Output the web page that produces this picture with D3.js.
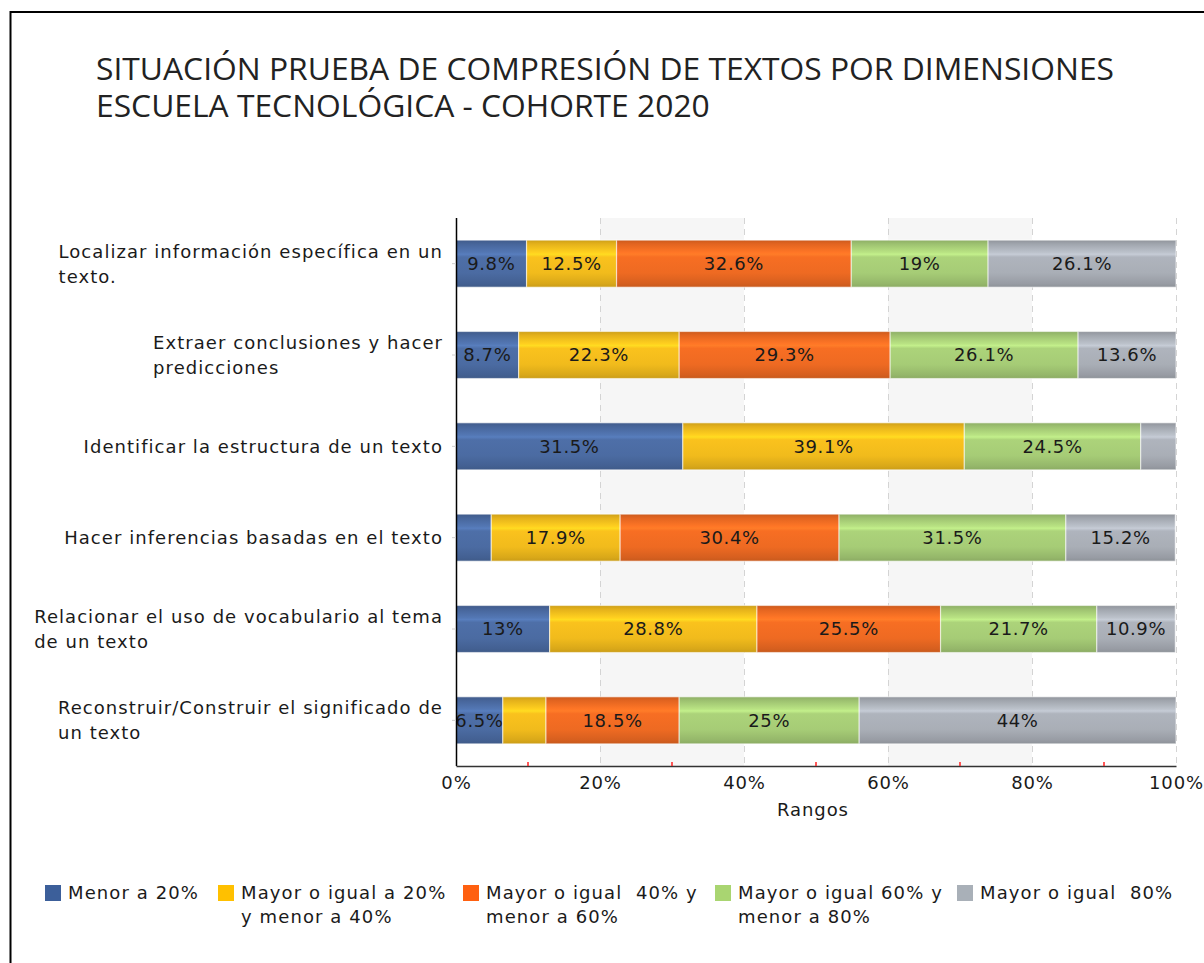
<!DOCTYPE html>
<html>
<head>
<meta charset="utf-8">
<script src="https://cdn.jsdelivr.net/npm/d3@7"></script>
<style>
  body { margin: 0; background: #fff; }
  svg text { font-family: "DejaVu Sans", Verdana, sans-serif; fill: #1a1a1a; white-space: pre; }
</style>
</head>
<body>
<script>
// ---- Datos ----
var titleLines = [
  "SITUACIÓN PRUEBA DE COMPRESIÓN DE TEXTOS POR DIMENSIONES",
  "ESCUELA TECNOLÓGICA - COHORTE 2020"
];
var categories = [
  ["Localizar información específica en un", "texto."],
  ["Extraer conclusiones y hacer", "predicciones"],
  ["Identificar la estructura de un texto"],
  ["Hacer inferencias basadas en el texto"],
  ["Relacionar el uso de vocabulario al tema", "de un texto"],
  ["Reconstruir/Construir el significado de", "un texto"]
];
var seriesNames = [
  ["Menor a 20%"],
  ["Mayor o igual a 20%", "y menor a 40%"],
  ["Mayor o igual  40% y", "menor a 60%"],
  ["Mayor o igual 60% y", "menor a 80%"],
  ["Mayor o igual  80%"]
];
var menor20   = [9.8, 8.7, 31.5, 4.9, 13, 6.5];
var mayor20   = [12.5, 22.3, 39.1, 17.9, 28.8, 6.0];
var mayor40   = [32.6, 29.3, 0, 30.4, 25.5, 18.5];
var mayor60   = [19, 26.1, 24.5, 31.5, 21.7, 25];
var mayor80   = [26.1, 13.6, 4.9, 15.2, 10.9, 44];
var xTicks = [0, 20, 40, 60, 80, 100];
var minorTicks = [10, 30, 50, 70, 90];
var axisTitle = "Rangos";

var baseColors = ["#4b6ba2", "#f1bb1c", "#ee6a22", "#a6cc76", "#a9aeb6"];
var legendColors = ["#3c5f9a", "#ffc000", "#ff6010", "#a9d571", "#a9b0b8"];

// ---- Configuración ----
var width = 1204, height = 963;
var margin = { top: 218, left: 456, right: 28, bottom: 197 };
var plotW = width - margin.left - margin.right;
var plotH = height - margin.top - margin.bottom;
var txtSize = "18px", txtSpacing = "1.05px";

var svg = d3.select("body").append("svg")
  .attr("width", width)
  .attr("height", height);

// marco
svg.append("path")
  .attr("d", "M10.5," + height + "V12H" + width)
  .attr("fill", "none")
  .attr("stroke", "#000")
  .attr("stroke-width", 2);

// título (una línea por elemento)
svg.selectAll("text.title")
  .data(titleLines)
  .join("text")
  .attr("class", "title")
  .attr("x", 96)
  .attr("y", function(d, i) { return 80 + i * 37; })
  .style("font-family", "'Open Sans', sans-serif")
  .style("font-size", "31.8px")
  .style("fill", "#222")
  .text(function(d) { return d; });

// ---- Escalas ----
var x = d3.scaleLinear().domain([0, 100]).range([0, plotW]);
var y = d3.scaleBand().domain(d3.range(categories.length)).range([0, plotH]).paddingInner(0.485).paddingOuter(0.2425);

var rows = categories.map(function(c, i) {
  return { i: i, v0: menor20[i], v1: mayor20[i], v2: mayor40[i], v3: mayor60[i], v4: mayor80[i] };
});
var stack = d3.stack().keys(["v0", "v1", "v2", "v3", "v4"])(rows);

// gradientes
var defs = svg.append("defs");
baseColors.forEach(function(c, k) {
  var base = d3.color(c);
  var g = defs.append("linearGradient")
    .attr("id", "grad" + k)
    .attr("x1", 0).attr("y1", 0).attr("x2", 0).attr("y2", 1);
  var stops = [
    [0, base.darker(0.45)],
    [0.08, base.darker(0.15)],
    [0.26, base.brighter(0.3)],
    [0.3, base.brighter(0.45)],
    [0.36, base.brighter(0.1)],
    [0.7, base],
    [0.92, base.darker(0.3)],
    [1, base.darker(0.5)]
  ];
  stops.forEach(function(s) {
    g.append("stop").attr("offset", s[0]).attr("stop-color", s[1].formatHex());
  });
});
defs.append("clipPath").attr("id", "clip")
  .append("rect").attr("x", 1).attr("width", plotW - 1).attr("height", plotH);

var plot = svg.append("g")
  .attr("transform", "translate(" + margin.left + "," + margin.top + ")");

// bandas de fondo
plot.selectAll("rect.band")
  .data([[20, 40], [60, 80]])
  .join("rect")
  .attr("class", "band")
  .attr("x", function(d) { return x(d[0]); })
  .attr("width", function(d) { return x(d[1]) - x(d[0]); })
  .attr("y", 0)
  .attr("height", plotH)
  .attr("fill", "#f6f6f6");

// rejilla
plot.selectAll("line.grid")
  .data(xTicks.slice(1))
  .join("line")
  .attr("class", "grid")
  .attr("x1", function(d) { return x(d) + 0.5; })
  .attr("x2", function(d) { return x(d) + 0.5; })
  .attr("y1", 0)
  .attr("y2", plotH)
  .attr("stroke", "#d4d4d4")
  .attr("stroke-dasharray", "6,5");

// barras
var layers = plot.append("g").attr("clip-path", "url(#clip)")
  .selectAll("g.layer")
  .data(stack)
  .join("g")
  .attr("class", "layer")
  .attr("fill", function(d, k) { return "url(#grad" + k + ")"; });

layers.selectAll("rect")
  .data(function(d) { return d; })
  .join("rect")
  .attr("x", function(d) { return x(d[0]); })
  .attr("width", function(d) { return Math.max(0, x(d[1]) - x(d[0])); })
  .attr("y", function(d) { return y(d.data.i); })
  .attr("height", y.bandwidth())
  .attr("stroke", "rgba(255,255,255,0.55)")
  .attr("stroke-width", 1.2);

layers.selectAll("text")
  .data(function(d) { return d.filter(function(s) { return s[1] - s[0] >= 6.2; }); })
  .join("text")
  .attr("x", function(d) { return x((d[0] + d[1]) / 2); })
  .attr("y", function(d) { return y(d.data.i) + y.bandwidth() / 2; })
  .attr("dy", "0.36em")
  .attr("text-anchor", "middle")
  .style("fill", "#1a1a1a")
  .style("font-size", txtSize)
  .style("letter-spacing", "0.6px")
  .text(function(d) { return d3.format("~")(+(d[1] - d[0]).toFixed(1)) + "%"; });

// eje Y
var yAxis = plot.append("g");
yAxis.append("line")
  .attr("x1", 0.5).attr("x2", 0.5).attr("y1", 0).attr("y2", plotH)
  .attr("stroke", "#000").attr("stroke-width", 1.5);
yAxis.selectAll("line.tk")
  .data(categories.map(function(c, i) { return i; }))
  .join("line")
  .attr("class", "tk")
  .attr("x1", -4).attr("x2", 0)
  .attr("y1", function(d) { return y(d) + y.bandwidth() / 2; })
  .attr("y2", function(d) { return y(d) + y.bandwidth() / 2; })
  .attr("stroke", "#ccc");

var catLabels = yAxis.selectAll("text.cat")
  .data(categories)
  .join("text")
  .attr("class", "cat")
  .style("font-size", txtSize)
  .style("letter-spacing", txtSpacing);
catLabels.each(function(lines, i) {
  var t = d3.select(this);
  var cy = y(i) + y.bandwidth() / 2;
  var lh = 25;
  var y0 = cy - (lines.length - 1) * lh / 2;
  lines.forEach(function(l, j) {
    t.append("tspan").attr("x", 0).attr("y", y0 + j * lh).attr("dy", "0.36em").text(l);
  });
  var w = this.getBBox().width;
  t.selectAll("tspan").attr("x", -13 - w);
});

// eje X
var xAxis = d3.axisBottom(x)
  .tickValues(xTicks)
  .tickFormat(function(d) { return d + "%"; })
  .tickSize(0)
  .tickPadding(10);
var gx = plot.append("g")
  .attr("transform", "translate(0," + plotH + ")")
  .call(xAxis);
gx.select(".domain").attr("stroke", "#333").attr("stroke-width", 1.5);
gx.selectAll(".tick text")
  .style("font-family", "'DejaVu Sans', Verdana, sans-serif")
  .style("font-size", txtSize)
  .style("letter-spacing", "0.9px")
  .attr("fill", "#1a1a1a");

gx.selectAll("line.minor")
  .data(minorTicks)
  .join("line")
  .attr("class", "minor")
  .attr("x1", function(d) { return x(d); })
  .attr("x2", function(d) { return x(d); })
  .attr("y1", -4).attr("y2", 0)
  .attr("stroke", "#ff2020").attr("stroke-width", 1.5);

plot.append("text")
  .attr("x", x(50) - 3)
  .attr("y", plotH + 50)
  .attr("text-anchor", "middle")
  .style("font-size", txtSize)
  .style("letter-spacing", "0.9px")
  .text(axisTitle);

// leyenda
var legendX = [45, 218, 463, 715, 957];
var legend = svg.append("g").attr("transform", "translate(0,885)");
var items = legend.selectAll("g.item")
  .data(seriesNames)
  .join("g")
  .attr("class", "item")
  .attr("transform", function(d, i) { return "translate(" + legendX[i] + ",0)"; });
items.append("rect")
  .attr("width", 16).attr("height", 16)
  .attr("fill", function(d, i) { return legendColors[i]; });
items.append("text")
  .style("font-size", txtSize)
  .style("letter-spacing", "1.1px")
  .each(function(lines) {
    var t = d3.select(this);
    lines.forEach(function(l, j) {
      t.append("tspan").attr("x", 23).attr("y", 14 + j * 24).text(l);
    });
  });
</script>
</body>
</html>
